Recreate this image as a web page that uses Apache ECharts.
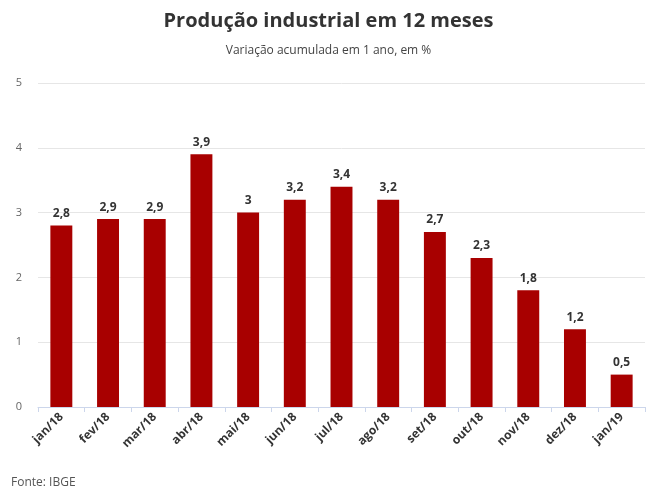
<!DOCTYPE html>
<html><head><meta charset="utf-8">
<script src="https://cdn.jsdelivr.net/npm/echarts@6/dist/echarts.min.js"></script>
<style>html,body{margin:0;padding:0;background:#fff}#c{width:657px;height:504px}</style>
</head><body><div id="c"></div>
<script>
const categories = ['jan/18','fev/18','mar/18','abr/18','mai/18','jun/18','jul/18','ago/18','set/18','out/18','nov/18','dez/18','jan/19'];
const values = [2.8,2.9,2.9,3.9,3,3.2,3.4,3.2,2.7,2.3,1.8,1.2,0.5];
const yTicks = [0,1,2,3,4,5];
const F = '"Open Sans", sans-serif';
const chart = echarts.init(document.getElementById('c'));
chart.setOption({
  animation:false,
  textStyle:{fontFamily:F},
  title:[{text:'Produção industrial em 12 meses',left:'center',top:6,textStyle:{fontFamily:F,fontSize:20,fontWeight:'bold',color:'#333'}},
         {text:'Variação acumulada em 1 ano, em %',left:'center',top:40,textStyle:{fontFamily:F,fontSize:12,fontWeight:'normal',color:'#444'}},
         {text:'Fonte: IBGE',left:6,top:472,textStyle:{fontFamily:F,fontSize:12,fontWeight:'normal',color:'#555'}}],
  grid:{left:38,right:12,top:83,bottom:97},
  xAxis:{type:'category',data:categories,
    axisLine:{lineStyle:{color:'#ccd6eb'}},axisTick:{show:true,alignWithLabel:false,lineStyle:{color:'#ccd6eb'}},
    axisLabel:{rotate:45,fontSize:12,fontWeight:'bold',color:'#333',fontFamily:F,margin:8}},
  yAxis:{type:'value',min:yTicks[0],max:yTicks[yTicks.length-1],interval:1,
    axisLabel:{fontSize:11,color:'#666',fontFamily:F,margin:16},
    splitLine:{lineStyle:{color:'#e6e6e6'}}},
  series:[{type:'bar',data:values,barWidth:'47%',itemStyle:{color:'#a80000'},
    label:{show:true,position:'top',distance:6,fontSize:12,fontWeight:'bold',color:'#333',fontFamily:F,
      formatter:p=>String(p.value).replace('.',',')}}]
});
</script></body></html>
